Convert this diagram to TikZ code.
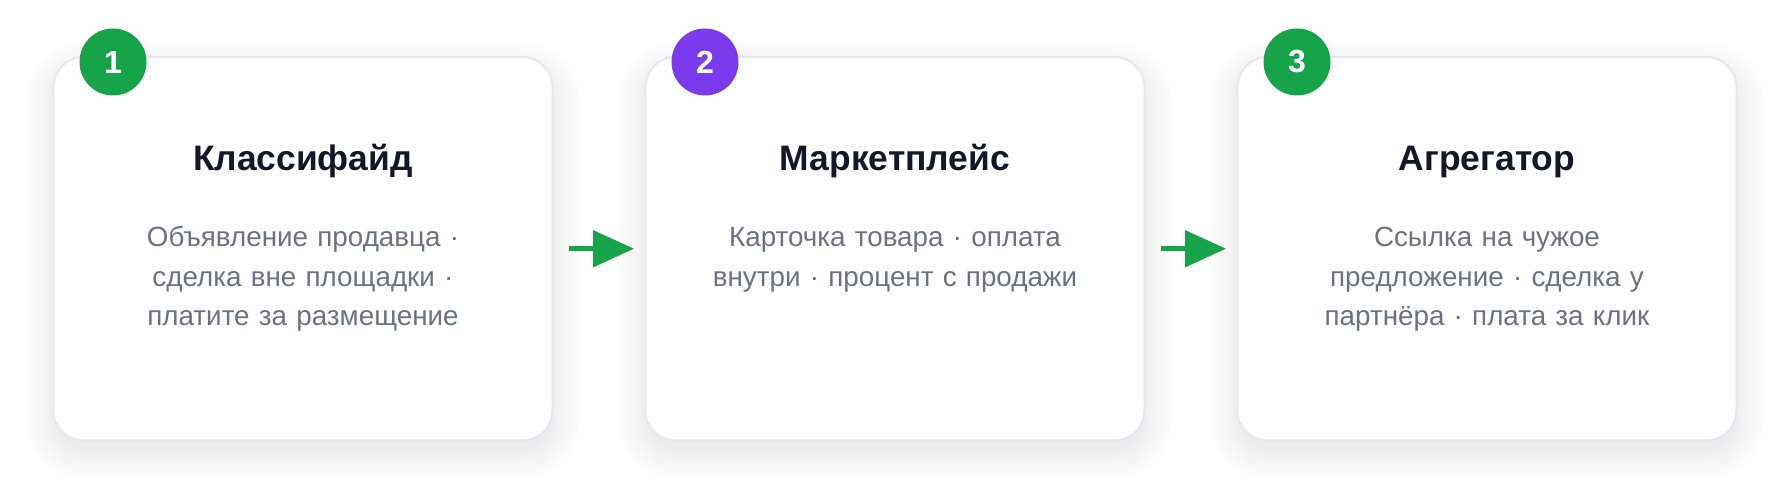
\documentclass[tikz,border=0pt]{standalone}
\usepackage{fontspec}
\setmainfont{Liberation Sans}
\usetikzlibrary{arrows.meta}
\definecolor{titlecol}{HTML}{111827}
\definecolor{bodycol}{HTML}{6B7280}
\definecolor{greencol}{HTML}{16A34A}
\definecolor{purplecol}{HTML}{7C3AED}
\definecolor{bordercol}{HTML}{E5E7EB}
\tikzset{
  card/.style={draw=bordercol, line width=1pt, fill=white, rounded corners=15pt,
    minimum width=249.5pt, minimum height=191.75pt, inner sep=0pt, outer sep=0pt},
  titletext/.style={anchor=base, inner sep=0pt, text=titlecol,
    font=\fontsize{17.7pt}{21pt}\selectfont\bfseries},
  bodytext/.style={anchor=base, inner sep=0pt, text=bodycol, text width=220pt, align=center,
    font=\fontsize{13.9pt}{19.6pt}\selectfont},
  badge/.style={circle, minimum size=33.5pt, inner sep=0pt, text=white,
    font=\fontsize{16pt}{18pt}\selectfont\bfseries},
  flowarrow/.style={draw=greencol, line width=2.5pt,
    -{Triangle[length=20.5pt,width=18pt]}, shorten <=8.25pt, shorten >=5.75pt}
}
\begin{document}
\begin{tikzpicture}[x=0.5pt,y=-0.5pt]
\useasboundingbox (0,0) rectangle (1790,501);
\fill[white] (0,0) rectangle (1790,501);
% soft shadows
\foreach \L in {54.3,646.3,1238.3}{
  \foreach \i [evaluate=\i as \d using \i*1.6-4, evaluate=\i as \r using 13+\i*0.8] in {1,...,20}{
    \fill[black, opacity=0.0035, rounded corners=\r pt]
      (\L-\d, 70-\d) rectangle (\L+497.5+\d, 451+\d);
  }
}
% cards
\node[card] (c1) at (303,248.75) {};
\node[card] (c2) at (895,248.75) {};
\node[card] (c3) at (1487,248.75) {};
% badges
\node[badge, fill=greencol] (b1) at (113,62) {1};
\node[badge, fill=purplecol] (b2) at (705,62) {2};
\node[badge, fill=greencol] (b3) at (1297,62) {3};
% titles
\node[titletext] (t1) at (303,171) {Классифайд};
\node[titletext] (t2) at (895,171) {Маркетплейс};
\node[titletext] (t3) at (1487,171) {Агрегатор};
% bodies
\node[bodytext] (d1) at (303,247) {Объявление продавца ·\\ сделка вне площадки ·\\ платите за размещение};
\node[bodytext] (d2) at (895,247) {Карточка товара · оплата\\ внутри · процент с продажи};
\node[bodytext] (d3) at (1487,247) {Ссылка на чужое\\ предложение · сделка у\\ партнёра · плата за клик};
% arrows
\draw[flowarrow] (c1.east) -- (c2.west);
\draw[flowarrow] (c2.east) -- (c3.west);
\end{tikzpicture}
\end{document}
